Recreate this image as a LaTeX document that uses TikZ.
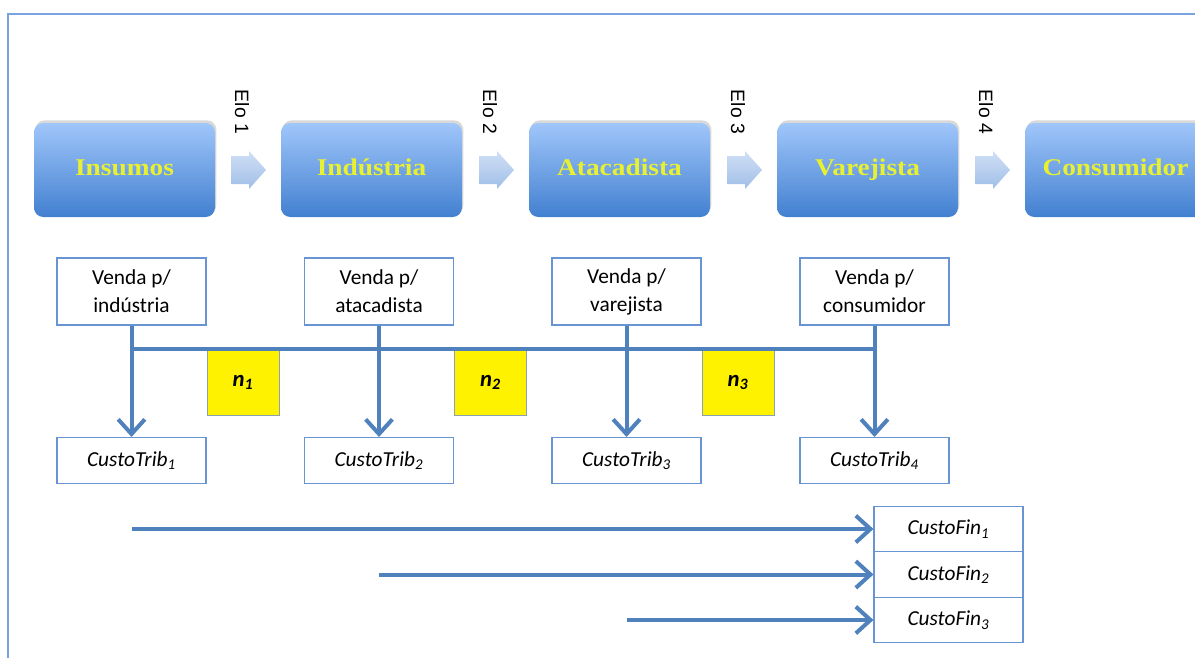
\documentclass[tikz,border=0pt]{standalone}
\usepackage{fontspec}
\setmainfont{Carlito}
\newfontfamily\titulo[FakeStretch=1.14]{Liberation Serif}
\newfontfamily\elofont{Liberation Sans}
\usetikzlibrary{arrows.meta,shadows}

\definecolor{azulLinha}{RGB}{79,129,189}
\definecolor{azulBorda}{RGB}{105,148,212}
\definecolor{azulClaro}{RGB}{160,198,250}
\definecolor{azulEscuro}{RGB}{66,128,208}
\definecolor{amareloTxt}{RGB}{232,240,50}
\definecolor{setaClara}{RGB}{208,224,245}
\definecolor{setaEscura}{RGB}{160,190,232}

\tikzset{
  elo/.style={rounded corners=7pt, top color=azulClaro, bottom color=azulEscuro,
    minimum width=135.75pt, minimum height=70.5pt, text=amareloTxt,
    text height=12pt, text depth=3.5pt,
    font=\titulo\bfseries\fontsize{18}{20}\selectfont,
    drop shadow={shadow xshift=1pt, shadow yshift=2pt, opacity=0.3}},
  caixa/.style={draw=azulBorda, line width=0.8pt, fill=white, align=center,
    minimum width=111.75pt, minimum height=50.25pt, font=\fontsize{16}{21}\selectfont},
  custo/.style={caixa, minimum height=34.5pt, font=\itshape\fontsize{16}{19}\selectfont},
  fin/.style={custo, minimum height=34.1pt},
  fator/.style={draw={rgb,255:red,140;green,160;blue,180}, fill=yellow, line width=0.6pt,
    minimum width=54pt, minimum height=49pt, font=\bfseries\itshape\fontsize{17}{19}\selectfont},
  rotulo/.style={rotate=-90, font=\elofont\fontsize{14.5}{16}\selectfont},
  linha/.style={draw=azulLinha, line width=3pt},
  fluxo/.style={linha, -{Straight Barb[length=11pt, width=20pt]}},
}

\begin{document}
\begin{tikzpicture}[x=0.75pt,y=0.75pt,yscale=-1,xscale=1]
\useasboundingbox (0,0) rectangle (1195,657);
\clip (0,0) rectangle (1195,657);

%Shape: Frame
\draw [draw={rgb,255:red,120;green,162;blue,224}, line width=1.5pt] (8,14) rectangle (1215,680);

%Shape: Chain
\node [elo] (insumos) at (124.5,170) {Insumos};
\node [elo] (industria) at (371.5,170) {Indústria};
\node [elo] (atacadista) at (619.5,170) {Atacadista};
\node [elo] (varejista) at (867.5,170) {Varejista};
\node [elo] (consumidor) at (1115.5,170) {Consumidor};

%Shape: Right Arrows
\foreach \cx in {249,497,745,993}
  \shade [top color=setaClara, bottom color=setaEscura, shift={(\cx,170)}]
    (-17.5,-14) -- (0,-14) -- (0,-19) -- (17,0) -- (0,19) -- (0,14) -- (-17.5,14) -- cycle;

% Text Node
\node [rotulo] (elo1) at (242,112) {Elo 1};
\node [rotulo] (elo2) at (490,112) {Elo 2};
\node [rotulo] (elo3) at (738,112) {Elo 3};
\node [rotulo] (elo4) at (986,112) {Elo 4};

%Shape: Sales
\node [caixa] (v1) at (131.5,291.5) {Venda p/\\indústria};
\node [caixa] (v2) at (379,291.5) {Venda p/\\atacadista};
\node [caixa] (v3) at (626.5,291.5) {Venda p/\\varejista};
\node [caixa] (v4) at (874.5,291.5) {Venda p/\\consumidor};

%Shape: Factors
\node [fator] (n1) at (243,382.5) {n\textsubscript{1}};
\node [fator] (n2) at (490.5,382.5) {n\textsubscript{2}};
\node [fator] (n3) at (738,382.5) {n\textsubscript{3}};

%Shape: Tax costs
\node [custo] (t1) at (131.5,460.5) {CustoTrib\textsubscript{1}};
\node [custo] (t2) at (379,460.5) {CustoTrib\textsubscript{2}};
\node [custo] (t3) at (626.5,460.5) {CustoTrib\textsubscript{3}};
\node [custo] (t4) at (874.5,460.5) {CustoTrib\textsubscript{4}};

%Shape: Financial costs
\node [fin] (f1) at (948.5,529) {CustoFin\textsubscript{1}};
\node [fin] (f2) at (948.5,574.5) {CustoFin\textsubscript{2}};
\node [fin] (f3) at (948.5,620) {CustoFin\textsubscript{3}};

%Shape: Links
\coordinate (barra) at (0,349);
\draw [linha] (v1 |- barra) -- (v4 |- barra);
\draw [fluxo] (v1) -- (t1);
\draw [fluxo] (v2) -- (t2);
\draw [fluxo] (v3) -- (t3);
\draw [fluxo] (v4) -- (t4);

\coordinate (i1) at (t1 |- f1);
\coordinate (i2) at (t2 |- f2);
\coordinate (i3) at (t3 |- f3);
\draw [fluxo] (i1) -- (f1);
\draw [fluxo] (i2) -- (f2);
\draw [fluxo] (i3) -- (f3);
\end{tikzpicture}
\end{document}
